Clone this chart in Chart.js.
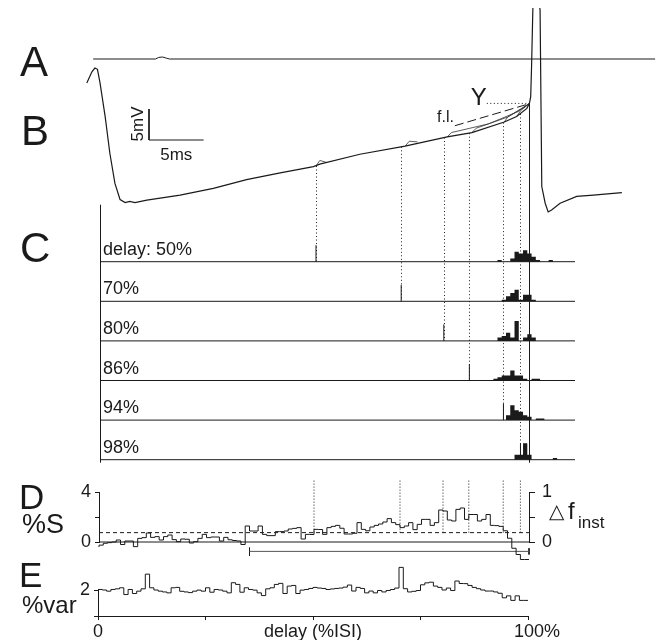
<!DOCTYPE html>
<html lang="en">
<head>
<meta charset="utf-8">
<title>Stimulus delay and spike timing</title>
<script src="https://cdn.jsdelivr.net/npm/chart.js@4.4.1/dist/chart.umd.min.js"></script>
<style>
  html, body { margin: 0; background: #fff; }
  #fig { position: relative; width: 660px; height: 640px; overflow: hidden; }
  #fig canvas { position: absolute; left: 0; top: 0; }
</style>
</head>
<body>
<div id="fig">
  <canvas id="cTraces" width="660" height="640"></canvas>
  <canvas id="cD" width="660" height="640"></canvas>
  <canvas id="cE" width="660" height="640"></canvas>
</div>
<script>
// stimulus delays (% of ISI) and membrane potential at each stimulus
const delays = [50, 70, 80, 86, 94, 98];
const delayLabels = ['delay: 50%', '70%', '80%', '86%', '94%', '98%'];
const stimMv = [5.8, 8.9, 10.4, 11.1, 12.8, 14.2];
const thresholdMv = 15.9;
const isiMs = 39;

// B: membrane potential over one ISI (time in %ISI, mV above the AHP trough)
const vmT = [-3.8, -2.6, -1.9, -1.3, -0.7, 0.5, 1.6, 2.8, 4.0, 5.2, 6.3, 7.5, 10.3, 18.1, 25.9, 33.7, 41.6, 49.4, 50.9, 60.3,
  70.9, 80.8, 86.6, 94.2, 97.1, 99.5, 100.1, 100.4, 100.6, 100.9, 101.4, 102.6, 103.0, 103.8, 104.5, 105.3, 107.3, 111.2, 115.1, 121.8];
const vmMv = [19.2, 21.0, 21.6, 21.4, 19.2, 13.8, 7.9, 3.0, 0.4, -0.1, 0.1, -0.1, 0.3, 1.1, 2.2, 3.6, 4.7, 5.7, 6.1, 7.7,
  9.0, 10.5, 11.2, 12.9, 13.8, 15.1, 15.9, 17.0, 21.8, 31.0, 35.8, 31.0, 2.5, -0.2, -1.6, -1.3, -0.2, 0.9, 1.1, 1.5];

// responses after each stimulus, running into the spike
const respT = [[50.0, 50.9, 52.4], [70.9, 71.9, 73.8], [80.8, 81.8, 90.5, 97.5, 100.1],
  [86.6, 87.6, 95.0, 100.1], [94.2, 95.0, 98.2, 100.1], [97.1, 98.0, 100.1]];
const respMv = [[5.8, 6.7, 6.4], [9.0, 9.8, 9.7], [10.5, 11.2, 12.6, 14.6, 15.9],
  [11.2, 11.9, 13.7, 15.9], [12.9, 13.7, 15.0, 15.9], [13.8, 14.7, 15.9]];

// firing level line (f.l.)
const flT = [82.6, 99.8];
const flMv = [12.3, 15.8];

// A: stimulus monitor
const monT = [-2.3, 12.3, 13.1, 14.0, 14.9, 15.6, 129.6];
const monV = [0, 0, 0.8, 1.0, 0.4, 0, 0];

// C: spike counts per 1 %ISI bin, first bin starts at 91.6 %
const histStart = 91.6;
const histCounts = [
  [0, 0, 1, 0, 0, 2, 6, 5, 7, 5, 3, 1, 0, 0, 1, 0],
  [0, 0, 0, 1, 3, 5, 7, 1, 4, 4, 1, 0, 0, 0, 0, 0],
  [1, 0, 2, 3, 5, 2, 12, 0, 2, 4, 2, 0, 0, 0, 0, 0],
  [0, 1, 2, 3, 3, 6, 3, 3, 1, 0, 1, 1, 0, 0, 0, 0],
  [0, 0, 0, 0, 3, 9, 6, 5, 3, 2, 0, 1, 1, 0, 0, 0],
  [0, 0, 0, 0, 0, 0, 3, 3, 10, 3, 0, 0, 0, 0, 0, 1]
];

// D: %S per 1 %ISI bin
const pctS = [
  -0.4, -0.25, -0.1, -0.05, 0.0, 0.16, -0.2, 0.08, 0.08, -0.37,
  0.29, 0.35, 0.72, 0.37, 0.43, 0.16, 0.43, 0.56, 0.19, 0.03,
  0.24, 0.22, -0.08, 0.03, 0.29, 0.61, 0.35, 0.4, 0.4, 0.08,
  0.37, 0.18, 0.12, 0.08, -0.2, 1.28, 0.88, 0.88, 1.28, 0.61,
  0.51, 0.51, 0.83, 0.83, 0.88, 1.04, 1.09, 1.15, 0.24, 0.61,
  0.6, 1.01, 1.0, 0.61, 1.15, 1.25, 1.33, 1.1, 0.64, 0.64,
  0.7, 1.55, 1.01, 0.9, 1.2, 1.33, 1.44, 1.6, 1.87, 1.55,
  1.39, 1.15, 1.28, 1.55, 0.99, 1.41, 1.81, 1.81, 1.33, 1.55,
  2.56, 2.48, 1.76, 1.68, 2.61, 2.72, 1.81, 2.2, 2.2, 1.68,
  1.81, 2.2, 1.33, 1.31, 1.25, 0.9, 0.3, -0.5, -1.0, -1.4
];
const pctSLevel = 0.75;
const sigStart = 35, sigEnd = 100;

// E: %var per 1 %ISI bin
const pctVar = [
  2.04, 2.04, 2.0, 1.91, 2.04, 2.09, 2.17, 1.65, 2.04, 1.73,
  1.91, 2.09, 3.22, 2.17, 2.0, 1.91, 1.85, 1.78, 2.17, 2.2,
  1.9, 1.85, 1.8, 1.91, 1.99, 1.91, 2.17, 1.83, 2.04, 2.0,
  1.91, 1.78, 2.56, 2.43, 1.83, 2.17, 2.04, 1.99, 1.78, 1.57,
  2.09, 2.17, 2.43, 2.51, 1.73, 2.3, 2.35, 1.73, 1.99, 2.04,
  2.12, 2.2, 2.15, 2.12, 2.04, 2.08, 2.12, 2.15, 2.22, 2.38,
  1.92, 2.2, 2.12, 1.78, 1.92, 1.78, 1.96, 1.85, 1.96, 2.04,
  2.15, 3.74, 2.1, 1.85, 1.9, 1.96, 2.4, 2.55, 2.6, 2.3,
  2.2, 2.0, 2.15, 1.96, 2.69, 2.5, 2.49, 2.35, 2.2, 2.1,
  2.0, 1.92, 1.92, 1.85, 1.75, 1.4, 1.55, 1.2, 1.55, 1.2
];

const W = 660, H = 640;
const FONT = '"Liberation Sans", Arial, Helvetica, sans-serif';
const INK = '#1a1a1a';

Chart.defaults.font.family = FONT;
Chart.defaults.color = INK;
Chart.defaults.animation = false;
Chart.defaults.plugins.legend.display = false;
Chart.defaults.plugins.tooltip.enabled = false;

function line(xs, ys, yAxisID, extra) {
  return Object.assign({
    data: xs.map((x, i) => ({ x: x, y: ys[i] })),
    yAxisID: yAxisID, borderColor: INK, borderWidth: 1, pointRadius: 0, tension: 0
  }, extra);
}

function stepLine(start, vals, extra) {
  const pts = vals.map((v, k) => ({ x: start + k, y: v }));
  pts.push({ x: start + vals.length, y: vals[vals.length - 1] });
  return Object.assign({
    data: pts, stepped: 'after', borderColor: INK, borderWidth: 1, pointRadius: 0, clip: false
  }, extra);
}

function label(ctx, str, x, y, size, align, family) {
  ctx.font = size + 'px ' + (family || FONT);
  ctx.textAlign = align || 'left';
  ctx.textBaseline = 'alphabetic';
  ctx.fillStyle = INK;
  ctx.fillText(str, x, y);
}

// ---------- panels A, B, C: one chart, shared time axis ----------
const T0_PX = 103, PX_PER_PCT = 4.26, TOP_CLIP = 8;
function yFrom(zeroPx, pxPerUnit) {
  return { min: -(H - zeroPx) / pxPerUnit, max: (zeroPx - TOP_CLIP) / pxPerUnit };
}
const rowZero = i => 261.7 + 39.6 * i;
const cLeft = -0.7, cRight = 110.8;
const barT = 10.8, barMv = 10;   // scale bar corner

const abcScales = {
  x: { type: 'linear', display: false, min: -T0_PX / PX_PER_PCT, max: (W - T0_PX) / PX_PER_PCT },
  yA: Object.assign({ type: 'linear', axis: 'y', display: false }, yFrom(59, 2)),
  yB: Object.assign({ type: 'linear', axis: 'y', display: false }, yFrom(202, 6.2))
};
delays.forEach((d, i) => {
  abcScales['yC' + i] = Object.assign({ type: 'linear', axis: 'y', display: false }, yFrom(rowZero(i), 1.65));
});

const abcSets = [
  line(monT, monV, 'yA'),
  line(vmT, vmMv, 'yB', { borderWidth: 1.2 }),
  line(flT, flMv, 'yB', { borderDash: [9, 4] }),
  line([90.1, 99.8], [thresholdMv, thresholdMv], 'yB', { borderDash: [1, 2.5] }),
  line([barT, barT, barT + 5 / isiMs * 100], [barMv + 5, barMv, barMv], 'yB')
];
respT.forEach((t, i) => abcSets.push(line(t, respMv[i], 'yB', { borderWidth: 0.8, borderColor: '#333' })));
histCounts.forEach((row, i) => {
  const axis = 'yC' + i;
  const pts = row.map((c, k) => ({ x: histStart + k, y: c }));
  pts.push({ x: histStart + row.length, y: 0 });
  abcSets.push({
    data: pts, yAxisID: axis, stepped: 'after', fill: 'origin',
    backgroundColor: INK, borderColor: 'rgba(0,0,0,0)', borderWidth: 0, pointRadius: 0
  });
  abcSets.push(line([cLeft, cRight], [0, 0], axis));
  abcSets.push(line([delays[i], delays[i]], [0, 10], axis));
});

const abcDecor = {
  id: 'abcDecor',
  afterDatasetsDraw(chart) {
    const { ctx, scales } = chart;
    const x = scales.x, yB = scales.yB;
    ctx.save();
    ctx.strokeStyle = INK;
    ctx.lineWidth = 1;

    // dotted drops from the trace to each histogram row
    ctx.setLineDash([1, 2.5]);
    delays.forEach((d, i) => {
      const px = Math.round(x.getPixelForValue(d)) + 0.5;
      ctx.beginPath();
      ctx.moveTo(px, yB.getPixelForValue(stimMv[i]));
      ctx.lineTo(px, scales['yC' + i].getPixelForValue(0));
      ctx.stroke();
    });
    ctx.setLineDash([]);

    // spike time carried down through the rows
    const sx = Math.round(x.getPixelForValue(100)) + 0.5;
    const bottom = scales.yC5.getPixelForValue(0) + 3;
    ctx.beginPath();
    ctx.moveTo(sx, yB.getPixelForValue(thresholdMv));
    ctx.lineTo(sx, bottom);
    ctx.stroke();

    // left edge of panel C
    const lx = Math.round(x.getPixelForValue(cLeft)) + 0.5;
    ctx.beginPath();
    ctx.moveTo(lx, scales.yC0.getPixelForValue(0) - 57);
    ctx.lineTo(lx, bottom);
    ctx.stroke();

    label(ctx, 'A', 20, 76, 42);
    label(ctx, 'B', 21, 145, 42);
    label(ctx, 'C', 20, 262, 42);

    // scale bar text
    const cx = x.getPixelForValue(barT), cy = yB.getPixelForValue(barMv);
    const bw = x.getPixelForValue(barT + 5 / isiMs * 100) - cx;
    label(ctx, '5ms', cx + bw / 2, cy + 20, 17, 'center');
    ctx.save();
    ctx.translate(cx - 6, cy - 16);
    ctx.rotate(-Math.PI / 2);
    label(ctx, '5mV', 0, 0, 17, 'center');
    ctx.restore();

    label(ctx, 'f.l.', x.getPixelForValue(flT[0]) - 1, yB.getPixelForValue(flMv[0]) - 4, 16, 'right');
    label(ctx, 'Y', x.getPixelForValue(90.1), yB.getPixelForValue(thresholdMv) + 2, 24, 'right');

    delayLabels.forEach((t, i) => {
      label(ctx, t, x.getPixelForValue(0), scales['yC' + i].getPixelForValue(0) - 7, 18);
    });
    ctx.restore();
  }
};

new Chart(document.getElementById('cTraces'), {
  type: 'line',
  data: { datasets: abcSets },
  options: {
    responsive: false,
    layout: { autoPadding: false, padding: { top: TOP_CLIP, left: 0, right: 0, bottom: 0 } },
    scales: abcScales
  },
  plugins: [abcDecor]
});

// ---------- panel D ----------
const tickFont = { size: 18, family: FONT };

const dSets = [
  stepLine(0, pctS),
  line([0, 100], [0, 0], 'y', { clip: false }),
  line([0, 100], [pctSLevel, pctSLevel], 'y', { borderDash: [4, 3], clip: false }),
  line([sigStart, sigEnd], [-0.75, -0.75], 'y', { borderColor: '#555', clip: false }),
  line([sigStart, sigStart], [-0.45, -1.1], 'y', { clip: false }),
  line([sigEnd, sigEnd], [-0.5, -1.0], 'y', { clip: false })
];
delays.forEach(d => dSets.push(line([d, d], [pctSLevel, 4.95], 'y', { borderDash: [1, 2], borderColor: INK, clip: false })));

const dDecor = {
  id: 'dDecor',
  afterDatasetsDraw(chart) {
    const ctx = chart.ctx;
    ctx.save();
    label(ctx, 'D', 19, 509, 35);
    label(ctx, '%S', 22, 533, 27);
    label(ctx, '\u25B3', 549, 518, 20, 'left', '"DejaVu Sans", sans-serif');
    label(ctx, 'f', 568, 519, 24);
    label(ctx, 'inst', 578, 528, 17);
    ctx.restore();
  }
};

new Chart(document.getElementById('cD'), {
  type: 'line',
  data: { datasets: dSets },
  options: {
    responsive: false,
    layout: { autoPadding: false, padding: { top: 492, left: 59, right: 71, bottom: 98 } },
    scales: {
      x: { type: 'linear', display: false, min: 0, max: 100 },
      y: {
        type: 'linear', position: 'left', min: 0, max: 4,
        ticks: { stepSize: 2, font: tickFont, color: INK, padding: 4,
          callback: v => (v === 0 || v === 4) ? String(v) : '' },
        grid: { drawOnChartArea: false, tickLength: 4, color: INK },
        border: { color: INK },
        afterFit: s => { s.width = 40; }
      },
      yR: {
        type: 'linear', axis: 'y', position: 'right', min: 0, max: 1,
        ticks: { stepSize: 0.5, font: tickFont, color: INK, padding: 7,
          callback: v => (v === 0 || v === 1) ? String(v) : '' },
        grid: { drawOnChartArea: false, tickLength: 6, color: INK },
        border: { color: INK },
        afterFit: s => { s.width = 60; }
      }
    }
  },
  plugins: [dDecor]
});

// ---------- panel E ----------
const eDecor = {
  id: 'eDecor',
  afterDatasetsDraw(chart) {
    const ctx = chart.ctx;
    ctx.save();
    label(ctx, 'E', 19, 587, 35);
    label(ctx, '%var', 22, 613, 24);
    label(ctx, 'delay (%ISI)', 313, 637, 18, 'center');
    ctx.restore();
  }
};

new Chart(document.getElementById('cE'), {
  type: 'line',
  data: { datasets: [stepLine(0, pctVar)] },
  options: {
    responsive: false,
    layout: { autoPadding: false, padding: { top: 590, left: 58, right: 132, bottom: 2 } },
    scales: {
      x: {
        type: 'linear', position: 'bottom', min: 0, max: 100,
        ticks: { stepSize: 25, autoSkip: false, maxRotation: 0, font: tickFont, color: INK, padding: 1,
          callback: v => v === 0 ? '0' : (v === 100 ? '\u2003100%' : '') },
        grid: { drawOnChartArea: false, tickLength: 4, color: INK },
        border: { color: INK },
        afterFit: s => { s.height = 22; }
      },
      y: {
        type: 'linear', position: 'left', min: 0, max: 2,
        ticks: { stepSize: 2, font: tickFont, color: INK, padding: 4,
          callback: v => v === 2 ? '2' : '' },
        grid: { drawOnChartArea: false, tickLength: 4, color: INK },
        border: { color: INK },
        afterFit: s => { s.width = 40; }
      }
    }
  },
  plugins: [eDecor]
});
</script>
</body>
</html>
